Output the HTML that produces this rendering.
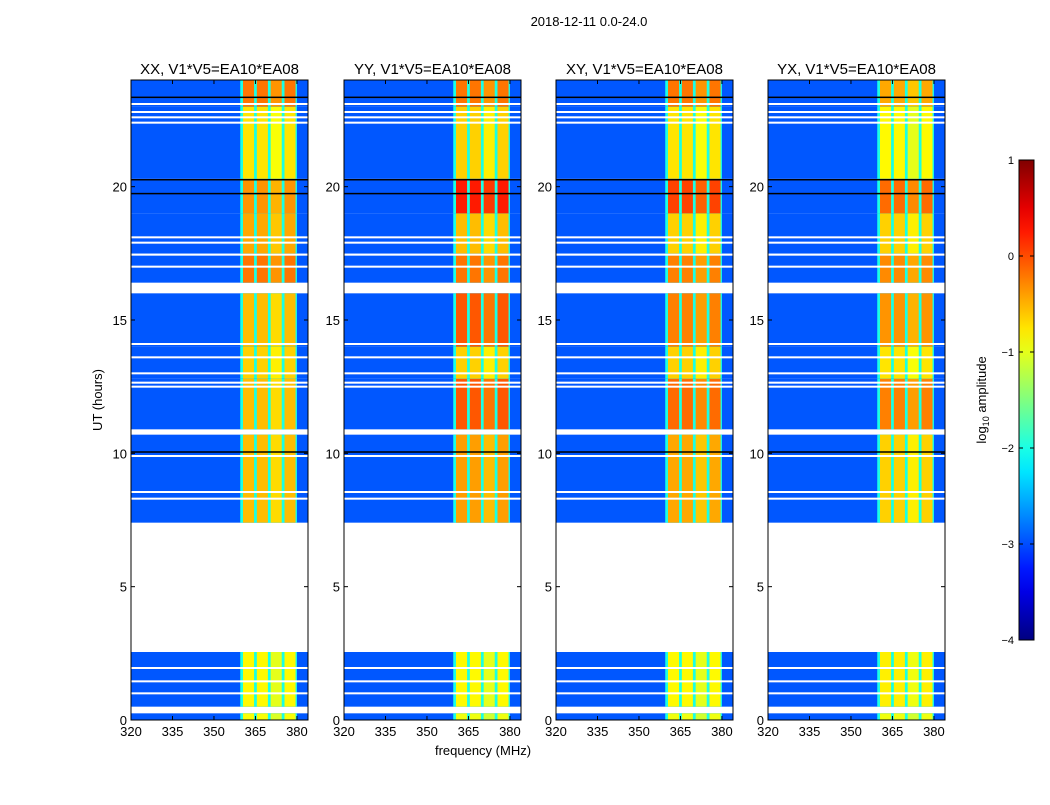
<!DOCTYPE html>
<html><head><meta charset="utf-8"><style>
body{margin:0;background:#fff;}
svg text{font-family:"Liberation Sans",sans-serif;}
</style></head><body>
<svg id="fig" width="1050" height="800" viewBox="0 0 1050 800" xmlns="http://www.w3.org/2000/svg">
<rect width="1050" height="800" fill="#fff"/>
<text x="589" y="26" font-size="13" text-anchor="middle">2018-12-11 0.0-24.0</text>
<text x="483" y="755" font-size="13" text-anchor="middle">frequency (MHz)</text>
<text transform="translate(102,400) rotate(-90)" font-size="13" text-anchor="middle">UT (hours)</text>
<text transform="translate(986,400) rotate(-90)" font-size="13" text-anchor="middle">log<tspan font-size="9" dy="3">10</tspan><tspan dy="-3"> amplitude</tspan></text>
<g id="panels"></g>
<g id="cbar"></g>
</svg>
<script>
const panelNames = ["XX","YY","XY","YX"];
const panelLefts = [131,344,556,768];
const segStart = [0,0.5,7.4,10.9,12.8,14,16.4,17.5,19,20.3,23];
const segEnd   = [0.25,2.55,10.7,12.8,14,16,17.5,19,20.3,23,24];
const levelXX = [-0.9,-0.85,-0.55,-0.55,-0.65,-0.55,-0.2,-0.45,-0.35,-0.75,-0.2];
const levelYY = [-0.95,-0.85,-0.4,-0.05,-0.65,-0.05,-0.2,-0.55,0.25,-0.65,-0.2];
const levelXY = [-0.95,-0.85,-0.45,-0.15,-0.65,-0.25,-0.25,-0.65,0.05,-0.75,-0.2];
const levelYX = [-0.95,-0.8,-0.65,-0.25,-0.75,-0.35,-0.3,-0.65,-0.15,-0.85,-0.45];
const bandLevels = [levelXX,levelYY,levelXY,levelYX];
const subBandStart = [360.5,365.5,370.5,375.5];
const subBandEnd   = [364.5,369.5,374.5,379.5];
const backgroundLevel = -2.95;
const gapLevel = -2.0;
const whiteLines = [1.0,1.45,1.95,8.3,8.55,9.9,12.5,12.65,13.0,13.6,14.1,17.0,17.45,17.9,18.1,22.4,22.6,22.8,23.1];
const blackLines = [10.05,19.74,20.26,23.35];
const xTicks = [320,335,350,365,380];
const yTicks = [0,5,10,15,20];
const cbarTicks = [-4,-3,-2,-1,0,1];

const NS="http://www.w3.org/2000/svg";
const PW=177, TOP=80, BOT=720, FMIN=320, FMAX=384, HMAX=24;
function jet(v){
  let t=Math.max(0,Math.min(1,(v+4)/5));
  const c=x=>Math.round(255*Math.max(0,Math.min(1,x)));
  const r=c(Math.min(4*t-1.5,-4*t+4.5)), g=c(Math.min(4*t-0.5,-4*t+3.5)), b=c(Math.min(4*t+0.5,-4*t+2.5));
  return `rgb(${r},${g},${b})`;
}
function el(tag,attrs,parent){const e=document.createElementNS(NS,tag);for(const k in attrs)e.setAttribute(k,attrs[k]);parent.appendChild(e);return e;}
const yS=h=>BOT-(h/HMAX)*(BOT-TOP);
const panelsG=document.getElementById('panels');
panelNames.forEach((nm,p)=>{
  const L=panelLefts[p];
  const xS=f=>L+(f-FMIN)/(FMAX-FMIN)*PW;
  const g=el('g',{},panelsG);
  
  
  segStart.forEach((s,i)=>{
    const y0=yS(segEnd[i]), h=yS(s)-y0;
    const bg=el('rect',{x:L,y:y0,width:PW,height:h,fill:jet(backgroundLevel)},g);
    
    
    const gp=el('rect',{x:xS(subBandStart[0]-1),y:y0,width:xS(subBandEnd[3]+0.5)-xS(subBandStart[0]-1),height:h,fill:jet(gapLevel)},g);
    
    
    subBandStart.forEach((f0,j)=>{
      const r=el('rect',{x:xS(f0),y:y0,width:xS(subBandEnd[j])-xS(f0),height:h,fill:jet(bandLevels[p][i]-(j==2?0.15:0))},g);
      
      
    });
  });
  whiteLines.forEach(hr=>{
    const r=el('rect',{x:L,y:yS(hr)-1,width:PW,height:2,fill:'#fff'},g);
    
    
  });
  blackLines.forEach(hr=>{
    const r=el('rect',{x:L,y:yS(hr)-0.75,width:PW,height:1.5,fill:'#000'},g);
    
    
  });
  el('rect',{x:L,y:TOP,width:PW,height:BOT-TOP,fill:'none',stroke:'#000','stroke-width':1},g);
  const t=el('text',{x:L+PW/2,y:74,'font-size':15,'text-anchor':'middle'},g);
  t.textContent=nm+', V1*V5=EA10*EA08';
  
  
  xTicks.forEach(v=>{
    const x=xS(v);
    el('line',{x1:x,x2:x,y1:BOT,y2:BOT-4,stroke:'#000'},g);
    el('line',{x1:x,x2:x,y1:TOP,y2:TOP+4,stroke:'#000'},g);
    const tx=el('text',{x:x,y:BOT+16,'font-size':13,'text-anchor':'middle'},g);
    tx.textContent=v;
    
    
  });
  yTicks.forEach(v=>{
    const y=yS(v);
    el('line',{x1:L,x2:L+4,y1:y,y2:y,stroke:'#000'},g);
    el('line',{x1:L+PW,x2:L+PW-4,y1:y,y2:y,stroke:'#000'},g);
    const tx=el('text',{x:L-4,y:y+5,'font-size':13,'text-anchor':'end'},g);
    tx.textContent=v;
    
    
  });
});
const cb=document.getElementById('cbar');
const CX=1019,CW=15,CT=160,CB=640;
const defs=el('defs',{},cb);
const lg=el('linearGradient',{id:'jetg',x1:0,y1:1,x2:0,y2:0},defs);
for(let i=0;i<=20;i++){el('stop',{offset:i/20,'stop-color':jet(-4+5*i/20)},lg);}
el('rect',{x:CX,y:CT,width:CW,height:CB-CT,fill:'url(#jetg)',stroke:'#000','stroke-width':1},cb);
cbarTicks.forEach(v=>{
  const y=CB-(v+4)/5*(CB-CT);
  el('line',{x1:CX,x2:CX+4,y1:y,y2:y,stroke:'#000'},cb);
  el('line',{x1:CX+CW,x2:CX+CW-4,y1:y,y2:y,stroke:'#000'},cb);
  const tx=el('text',{x:CX-5,y:y+4,'font-size':11,'text-anchor':'end'},cb);
  tx.textContent=(v<0?'\u2212'+(-v):v);
  
  
});
</script>
</body></html>
